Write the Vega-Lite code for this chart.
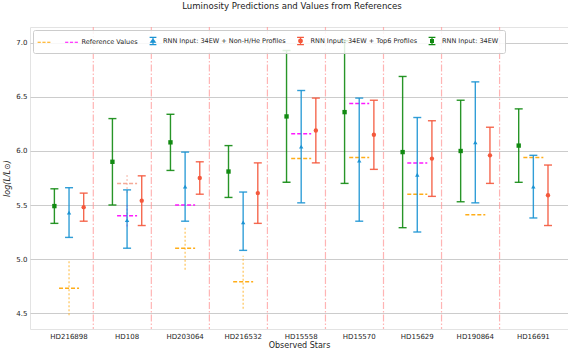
{
  "$schema": "https://vega.github.io/schema/vega-lite/v6.json",
  "width": 538,
  "height": 302,
  "autosize": {"type": "none"},
  "padding": {"left": 30, "top": 27, "right": 0, "bottom": 26},
  "title": {"text": "Luminosity Predictions and Values from References", "fontSize": 8.6, "fontWeight": "normal", "color": "#222222", "offset": 16, "dx": -7},
  "datasets": {
    "pred": [
      {"star": "HD216898", "series": "RNN Input: 34EW", "value": 5.49, "lo": 5.33, "hi": 5.65},
      {"star": "HD216898", "series": "RNN Input: 34EW + Non-H/He Profiles", "value": 5.43, "lo": 5.20, "hi": 5.66},
      {"star": "HD216898", "series": "RNN Input: 34EW + Top6 Profiles", "value": 5.48, "lo": 5.35, "hi": 5.61},
      {"star": "HD108", "series": "RNN Input: 34EW", "value": 5.90, "lo": 5.50, "hi": 6.30},
      {"star": "HD108", "series": "RNN Input: 34EW + Non-H/He Profiles", "value": 5.36, "lo": 5.10, "hi": 5.64},
      {"star": "HD108", "series": "RNN Input: 34EW + Top6 Profiles", "value": 5.54, "lo": 5.31, "hi": 5.77},
      {"star": "HD203064", "series": "RNN Input: 34EW", "value": 6.08, "lo": 5.82, "hi": 6.34},
      {"star": "HD203064", "series": "RNN Input: 34EW + Non-H/He Profiles", "value": 5.67, "lo": 5.35, "hi": 5.99},
      {"star": "HD203064", "series": "RNN Input: 34EW + Top6 Profiles", "value": 5.75, "lo": 5.60, "hi": 5.90},
      {"star": "HD216532", "series": "RNN Input: 34EW", "value": 5.81, "lo": 5.57, "hi": 6.05},
      {"star": "HD216532", "series": "RNN Input: 34EW + Non-H/He Profiles", "value": 5.34, "lo": 5.08, "hi": 5.62},
      {"star": "HD216532", "series": "RNN Input: 34EW + Top6 Profiles", "value": 5.61, "lo": 5.33, "hi": 5.89},
      {"star": "HD15558", "series": "RNN Input: 34EW", "value": 6.32, "lo": 5.71, "hi": 6.93},
      {"star": "HD15558", "series": "RNN Input: 34EW + Non-H/He Profiles", "value": 6.04, "lo": 5.52, "hi": 6.56},
      {"star": "HD15558", "series": "RNN Input: 34EW + Top6 Profiles", "value": 6.19, "lo": 5.89, "hi": 6.49},
      {"star": "HD15570", "series": "RNN Input: 34EW", "value": 6.36, "lo": 5.70, "hi": 7.02},
      {"star": "HD15570", "series": "RNN Input: 34EW + Non-H/He Profiles", "value": 5.91, "lo": 5.35, "hi": 6.49},
      {"star": "HD15570", "series": "RNN Input: 34EW + Top6 Profiles", "value": 6.15, "lo": 5.83, "hi": 6.47},
      {"star": "HD15629", "series": "RNN Input: 34EW", "value": 5.99, "lo": 5.29, "hi": 6.69},
      {"star": "HD15629", "series": "RNN Input: 34EW + Non-H/He Profiles", "value": 5.78, "lo": 5.25, "hi": 6.31},
      {"star": "HD15629", "series": "RNN Input: 34EW + Top6 Profiles", "value": 5.93, "lo": 5.58, "hi": 6.28},
      {"star": "HD190864", "series": "RNN Input: 34EW", "value": 6.00, "lo": 5.53, "hi": 6.47},
      {"star": "HD190864", "series": "RNN Input: 34EW + Non-H/He Profiles", "value": 6.08, "lo": 5.52, "hi": 6.64},
      {"star": "HD190864", "series": "RNN Input: 34EW + Top6 Profiles", "value": 5.96, "lo": 5.70, "hi": 6.22},
      {"star": "HD16691", "series": "RNN Input: 34EW", "value": 6.05, "lo": 5.71, "hi": 6.39},
      {"star": "HD16691", "series": "RNN Input: 34EW + Non-H/He Profiles", "value": 5.67, "lo": 5.38, "hi": 5.96},
      {"star": "HD16691", "series": "RNN Input: 34EW + Top6 Profiles", "value": 5.59, "lo": 5.31, "hi": 5.87}
    ],
    "refs": [
      {"star": "HD216898", "ref": "Reference 1", "value": 4.73, "lo": 4.48, "hi": 4.98},
      {"star": "HD108", "ref": "Reference 2", "value": 5.40, "lo": 5.30, "hi": 5.50},
      {"star": "HD108", "ref": "Reference 3", "value": 5.70, "lo": 5.61, "hi": 5.79},
      {"star": "HD203064", "ref": "Reference 2", "value": 5.50, "lo": null, "hi": null},
      {"star": "HD203064", "ref": "Reference 1", "value": 5.10, "lo": 4.90, "hi": 5.29},
      {"star": "HD216532", "ref": "Reference 1", "value": 4.79, "lo": 4.54, "hi": 5.03},
      {"star": "HD15558", "ref": "Reference 2", "value": 6.16, "lo": null, "hi": null},
      {"star": "HD15558", "ref": "Reference 1", "value": 5.93, "lo": null, "hi": null},
      {"star": "HD15570", "ref": "Reference 2", "value": 6.44, "lo": null, "hi": null},
      {"star": "HD15570", "ref": "Reference 1", "value": 5.94, "lo": null, "hi": null},
      {"star": "HD15629", "ref": "Reference 2", "value": 5.89, "lo": null, "hi": null},
      {"star": "HD15629", "ref": "Reference 1", "value": 5.60, "lo": null, "hi": null},
      {"star": "HD190864", "ref": "Reference 1", "value": 5.41, "lo": null, "hi": null},
      {"star": "HD16691", "ref": "Reference 1", "value": 5.94, "lo": null, "hi": null}
    ]
  },
  "layer": [
    {
      "data": {"name": "pred"},
      "transform": [{"filter": "datum.series == 'RNN Input: 34EW + Non-H/He Profiles' && datum.star != 'HD16691'"}],
      "mark": {"type": "rule", "color": "#ff9494", "opacity": 0.7, "strokeWidth": 1.2, "strokeDash": [7, 2, 1.5, 2]},
      "encoding": {
        "x": {"field": "star", "type": "nominal", "bandPosition": 0.918, "title": "Observed Stars",
          "scale": {"type": "band", "domain": ["HD216898", "HD108", "HD203064", "HD216532", "HD15558", "HD15570", "HD15629", "HD190864", "HD16691"], "paddingInner": 0, "paddingOuter": 0.1348, "align": 0.64}}
      }
    },
    {
      "data": {"name": "refs"},
      "transform": [{"filter": "datum.lo != null"}],
      "mark": {"type": "rule", "strokeWidth": 1.3, "strokeDash": [2, 2], "opacity": 0.6},
      "encoding": {
        "x": {"field": "star", "type": "nominal", "title": "Observed Stars"},
        "y": {"field": "lo", "type": "quantitative", "title": "log(L/L⊙)"},
        "y2": {"field": "hi"},
        "stroke": {"field": "ref", "type": "nominal", "legend": null,
          "scale": {"domain": ["Reference 1", "Reference 2", "Reference 3"], "range": ["#ffa500", "#ff00ff", "#f4a08c"]}}
      }
    },
    {
      "data": {"name": "refs"},
      "mark": {"type": "point", "shape": "M-1,0H1", "size": 400, "strokeWidth": 1.5, "strokeDash": [4, 2], "filled": false, "opacity": 0.9},
      "encoding": {
        "x": {"field": "star", "type": "nominal", "title": "Observed Stars"},
        "y": {"field": "value", "type": "quantitative", "title": "log(L/L⊙)"},
        "stroke": {"field": "ref", "type": "nominal", "legend": null}
      }
    },
    {
      "data": {"name": "pred"},
      "mark": {"type": "rule", "strokeWidth": 1.4, "opacity": 0.9},
      "encoding": {
        "x": {"field": "star", "type": "nominal", "title": "Observed Stars"},
        "xOffset": {"field": "series", "type": "nominal",
          "scale": {"type": "band", "domain": ["RNN Input: 34EW", "RNN Input: 34EW + Non-H/He Profiles", "RNN Input: 34EW + Top6 Profiles"], "paddingInner": 0, "paddingOuter": 0.481}},
        "y": {"field": "lo", "type": "quantitative", "title": "log(L/L⊙)",
          "scale": {"domain": [4.352, 7.148], "nice": false, "zero": false},
          "axis": {"values": [4.5, 5.0, 5.5, 6.0, 6.5, 7.0], "format": ".1f"}},
        "y2": {"field": "hi"},
        "color": {"field": "series", "type": "nominal",
          "scale": {"domain": ["Reference 1", "Reference 2", "RNN Input: 34EW + Non-H/He Profiles", "RNN Input: 34EW + Top6 Profiles", "RNN Input: 34EW"], "range": ["#ffa500", "#ff00ff", "#1b93d3", "#f4583c", "#118a11"]},
          "legend": {
            "title": null,
            "labelExpr": "datum.value == 'Reference 1' ? '' : datum.value == 'Reference 2' ? 'Reference Values' : datum.label",
            "encode": {
              "symbols": {
                "update": {
                  "shape": {"signal": "datum.value == 'Reference 1' || datum.value == 'Reference 2' ? 'M-1.6,0H-0.8M-0.4,0H0.4M0.8,0H1.6' : datum.value == 'RNN Input: 34EW + Non-H/He Profiles' ? 'M-0.85,-0.9H0.85M0,-0.9V0.9M-0.85,0.9H0.85M-0.55,0.3L0,-0.45L0.55,0.3Z' : datum.value == 'RNN Input: 34EW + Top6 Profiles' ? 'M-0.85,-0.9H0.85M0,-0.9V0.9M-0.85,0.9H0.85M-0.45,0A0.45,0.45,0,1,0,0.45,0A0.45,0.45,0,1,0,-0.45,0Z' : 'M-0.85,-0.9H0.85M0,-0.9V0.9M-0.85,0.9H0.85M-0.35,-0.35H0.35V0.35H-0.35Z'"},
                  "stroke": {"signal": "scale('color', datum.value)"},
                  "fill": {"signal": "scale('color', datum.value)"},
                  "strokeWidth": {"value": 1.2},
                  "opacity": {"value": 1}
                }
              }
            }
          }
        }
      }
    },
    {
      "data": {"name": "pred"},
      "mark": {"type": "tick", "size": 8, "thickness": 1.4, "opacity": 0.9},
      "encoding": {
        "x": {"field": "star", "type": "nominal", "title": "Observed Stars"},
        "xOffset": {"field": "series", "type": "nominal"},
        "y": {"field": "lo", "type": "quantitative", "title": "log(L/L⊙)"},
        "color": {"field": "series", "type": "nominal"}
      }
    },
    {
      "data": {"name": "pred"},
      "mark": {"type": "tick", "size": 8, "thickness": 1.4, "opacity": 0.9},
      "encoding": {
        "x": {"field": "star", "type": "nominal", "title": "Observed Stars"},
        "xOffset": {"field": "series", "type": "nominal"},
        "y": {"field": "hi", "type": "quantitative", "title": "log(L/L⊙)"},
        "color": {"field": "series", "type": "nominal"}
      }
    },
    {
      "data": {"name": "pred"},
      "mark": {"type": "point", "filled": true, "size": 19, "opacity": 1},
      "encoding": {
        "x": {"field": "star", "type": "nominal", "title": "Observed Stars"},
        "xOffset": {"field": "series", "type": "nominal"},
        "y": {"field": "value", "type": "quantitative", "title": "log(L/L⊙)"},
        "color": {"field": "series", "type": "nominal"},
        "shape": {"field": "series", "type": "nominal", "legend": null,
          "scale": {"domain": ["RNN Input: 34EW", "RNN Input: 34EW + Non-H/He Profiles", "RNN Input: 34EW + Top6 Profiles"], "range": ["square", "triangle-up", "circle"]}}
      }
    }
  ],
  "config": {
    "font": "DejaVu Sans",
    "view": {"stroke": "#e3e3e3"},
    "axis": {"labelColor": "#262626", "titleColor": "#262626", "ticks": false, "domain": false, "labelFontSize": 7, "titleFontSize": 8, "titleFontWeight": "normal"},
    "axisX": {"grid": false, "labelAngle": 0, "labelPadding": 3, "titlePadding": 2},
    "axisY": {"grid": true, "gridColor": "#cccccc", "gridWidth": 1.2, "labelPadding": 3, "titlePadding": 4, "titleFontStyle": "italic"},
    "legend": {
      "orient": "top-left", "direction": "horizontal", "offset": 3, "padding": 6,
      "columnPadding": 8.5, "labelOffset": 5, "symbolSize": 64, "labelFontSize": 6.5, "labelColor": "#262626",
      "fillColor": "rgba(255,255,255,0.85)", "strokeColor": "#cccccc", "cornerRadius": 2, "symbolOpacity": 1
    }
  }
}
